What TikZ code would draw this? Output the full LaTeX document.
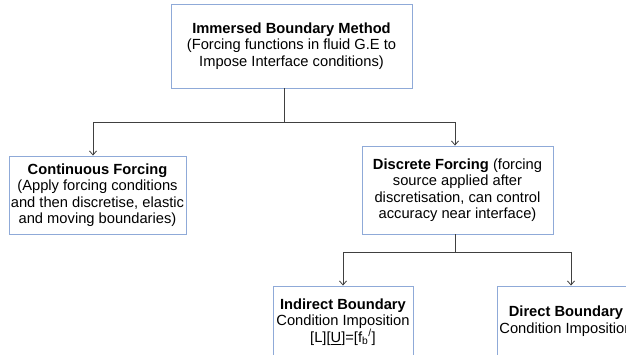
\documentclass[tikz,border=0pt]{standalone}
\usepackage{fontspec}
\setmainfont{Liberation Sans}
\usetikzlibrary{arrows.meta}
\definecolor{boxblue}{RGB}{143,170,216}
\definecolor{linegray}{RGB}{64,64,64}
\begin{document}
\begin{tikzpicture}[x=1pt,y=-1pt,
  box/.style={draw=boxblue,line width=0.9pt,fill=white,align=center,inner sep=0pt,
    font=\fontsize{14.7}{16.4}\selectfont},
  link/.style={draw=linegray,line width=0.8pt,-{Straight Barb[length=4pt,width=7pt]}}]
\useasboundingbox[fill=white] (0,0) rectangle (626,354);
\node[box,minimum width=241,minimum height=84] (ibm) at (291.5,46)
  {\textbf{Immersed Boundary Method}\\(Forcing functions in fluid G.E to\\Impose Interface conditions)};
\node[box,minimum width=177,minimum height=78] (cont) at (97.5,195)
  {\textbf{Continuous Forcing}\\(Apply forcing conditions\\and then discretise, elastic\\and moving boundaries)};
\node[box,minimum width=191,minimum height=88] (disc) at (457.5,190)
  {\textbf{Discrete Forcing} (forcing\\source applied after\\discretisation, can control\\accuracy near interface)};
\node[box,minimum width=140,minimum height=72] (indir) at (343,322)
  {\textbf{Indirect Boundary}\\Condition Imposition\\{}[L][\underline{U}]=[f\textsubscript{b}\textsuperscript{/}]};
\node[box,minimum width=138,minimum height=70] (dir) at (566,321)
  {\textbf{Direct Boundary}\\Condition Imposition};
\coordinate (s1) at (284,122);
\coordinate (s2) at (455,252);
\draw[link] (ibm.south -| s1) -- (s1) -| ([xshift=-4.5pt]cont.north);
\draw[link] (s1) -| ([xshift=-2.5pt]disc.north);
\draw[link] (disc.south -| s2) -- (s2) -| (indir.north);
\draw[link] (s2) -| ([xshift=5pt]dir.north);
\end{tikzpicture}
\end{document}
